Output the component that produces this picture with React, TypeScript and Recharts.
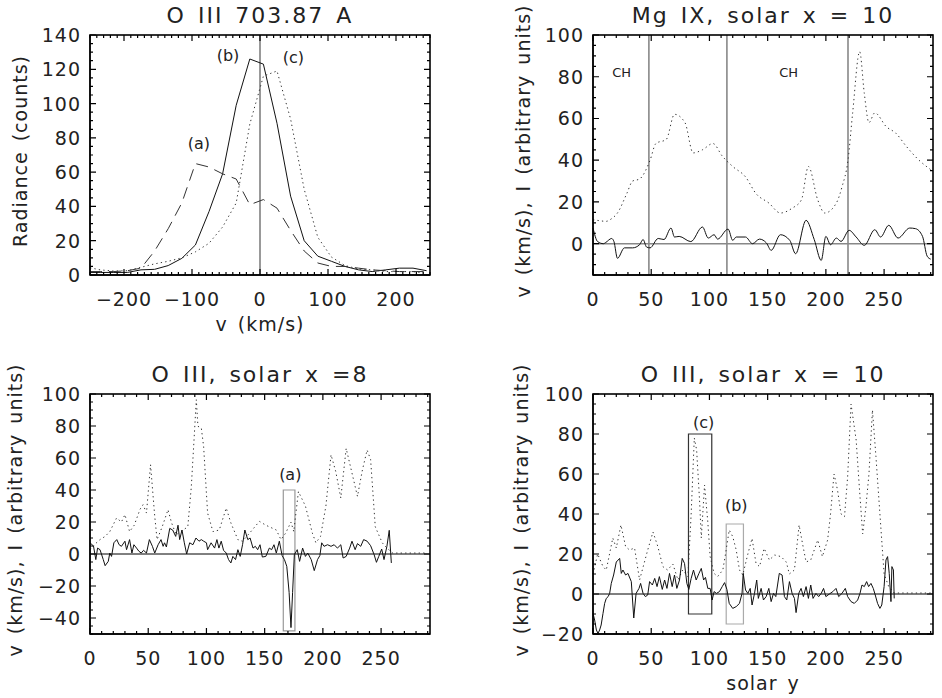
import React from "react";
import {
  LineChart,
  Line,
  XAxis,
  YAxis,
  ReferenceLine,
  ReferenceArea,
  ReferenceDot,
} from "recharts";

const FONT = "'DejaVu Sans', 'Liberation Sans', sans-serif";
const INK = "#222";

// --- top left: O III 703.87 A line profiles (velocity in km/s) ---
const VEL = [-250, -235, -215, -195, -175, -155, -135, -115, -95, -75, -55, -35, -15, 5, 25, 45, 65, 85, 105, 125, 145, 165, 185, 205, 225, 245];
const PROFILE_B = [1.5, 1.5, 1.5, 1.5, 3, 3.3, 5.5, 9.7, 17.5, 37, 59, 99, 126, 123, 88.5, 46, 20, 11, 8, 5, 3, 2, 3, 4, 4, 2.5];
const PROFILE_C = [4.2, 3, 2.3, 2.5, 4.5, 6.5, 8, 10, 13.5, 18.5, 28, 42, 88, 116, 119, 91, 50, 22, 10.5, 5.5, 3.5, 3, 2, 2, 2, 1];
const PROFILE_A = [2, 2, 2, 2.5, 4, 14, 27, 42, 65, 63, 59, 56, 41, 44, 39, 26, 14, 7, 5, 5, 4, 3, 2.5, 2, 2, 2];

// --- top right: Mg IX, solar x = 10 ([solar y, value]) ---
const MG_INT: [number, number][] = [
  [0, 11.5], [6, 11], [11, 10.7], [16, 12], [21, 14.7], [29, 24], [34, 30], [40, 31], [49, 40], [54, 48],
  [63, 50], [70, 62], [79, 58], [86, 43.5], [94, 45], [103, 48], [111, 42], [120, 37], [131, 32], [140, 24],
  [151, 19.5], [161, 14.7], [171, 17], [179, 21], [185, 37], [193, 21], [199, 14.7], [209, 19.5], [214, 27.5],
  [219, 40], [223, 62.7], [229, 92], [233, 72], [237, 58], [242, 62.7], [252, 56], [260, 53], [269, 46.7],
  [280, 40], [290, 35.5],
];
const MG_VEL: [number, number][] = [
  [0, 7.5], [4, 1], [9, 0], [11, 0.6], [16, 2.5], [18, 1], [21, -7], [27, -2], [34, -2], [40, -0.5], [43, 2],
  [46, -1.6], [49, -2], [56, 2.5], [61, 2], [67, 7.5], [70, 3.2], [74, 3.5], [84, 1], [94, 8], [99, 2.7],
  [104, 4.3], [107, 2.2], [116, 7], [120, 1.6], [123, 3.2], [131, 3.2], [137, 0], [143, 2.2], [149, 0.3],
  [153, -3.2], [161, 4.3], [169, 1.6], [174, -4.8], [183, 11.2], [190, 2], [196, -8], [200, 3.5], [204, -0.5],
  [209, 2.7], [213, 1.1], [220, 6.4], [226, 3.2], [233, -0.8], [242, 6.7], [247, 3.2], [254, 8.8], [262, 2.7],
  [272, 7.5], [277, 7.2], [283, 3.5], [287, -6], [290, -7.4],
];
const MG_BOUNDS = [48, 115, 219];

// --- bottom left: O III, solar x = 8 ---
const O8_INT: [number, number][] = [
  [0, 2.7], [4, 6], [8.6, 9], [13, 11], [17, 14], [22.8, 22.5], [27, 20], [30, 24.6], [34, 14], [38, 18],
  [43, 28], [45.6, 30.8], [48.5, 25.6], [52, 55.8], [55.6, 23.5], [57.6, 9], [62, 17], [67, 27.7], [70, 19.6],
  [74, 12], [78, 14], [84, 17], [87, 42], [89, 67], [91.3, 96.4], [92.7, 79.8], [95.6, 78.8], [97.6, 67],
  [101, 25.6], [105.6, 14], [111, 15], [117, 28.7], [121, 19.4], [127, 9], [131, 8], [137, 13], [145.5, 20.4],
  [151, 18], [160, 15], [164, 9], [168, 13], [172.6, 20], [175, 14], [179, 39], [185, 30], [191, 13], [194, 7],
  [198, 11], [202.6, 30], [207, 62], [211, 51.7], [215.4, 35], [220, 66], [225, 50.6], [229.7, 36], [234, 52.7],
  [238, 65], [241, 59], [245, 17], [251, 7], [255, 3.7], [260, 0.6], [262, 0.6], [288, 0.6],
];
const O8_VEL: [number, number][] = [
  [0, 7], [3, 5], [5, -3.5], [6.5, 3.7], [8.6, 2.7], [11.4, -3.5], [13, -7.3], [15.7, -4.6], [17, 0.6],
  [18.5, -1.5], [20.5, 7], [23, 9], [25, 5.8], [27, 4.8], [30, 8], [31.4, 2.7], [34, 9], [36, 0.6], [37.7, 5.8],
  [40, 3.7], [42, 1.7], [44, 0.6], [46, 2.3], [48.5, 0.6], [51, 9], [53.6, 4.8], [55.6, 0.6], [58.5, 5.8],
  [61, 9], [62.8, 4.8], [64, 7], [65.6, 4.4], [68.5, 16], [71, 15], [73.6, 11], [75.6, 18], [77, 9], [79, 15],
  [81, 7], [83, 0], [85.6, 7], [88.4, 5.8], [91, 10], [93.6, 8], [95.6, 9], [97.6, 8], [100, 7], [101, 2.7],
  [104, 7], [107, 3.7], [109, 9], [110.7, 3.7], [112.7, 8], [114.7, 2.3], [117, 0.6], [119, -3.5], [121, -5.6],
  [122.7, -1.5], [125, -3.5], [127, 2.7], [129, -1.5], [131, 5.8], [133, 15], [135.5, 9], [137.5, 10],
  [140, 3.7], [142, 4.8], [144, 2.7], [146, 5.8], [148, -1.9], [151, -1.5], [154, 3.7], [156, 2.7], [158, 5.8],
  [160, 0.6], [162.6, 8], [165, -1], [167, -3.5], [169, -7.7], [171, -24], [172.6, -46], [174, -24],
  [175.5, -0.4], [178, 2.7], [180, -4.6], [182.6, 3.7], [185, -1.5], [187, 0.6], [190, -3.5], [192.6, -10.4],
  [195.4, -3.5], [197.4, -1], [199, 7], [201, 4.8], [204, 5.8], [207, 4.8], [209.7, 5.8], [212.5, 3.7],
  [215.4, 5.8], [217.4, -2.5], [220, -1.5], [223, 3.7], [225, 8], [227.7, 2.7], [229.7, 6.5], [232.5, 4.8],
  [235, 9], [238, 8], [241, 5.2], [244, -0.4], [246, -5.2], [248, -1.5], [250.5, 3.1], [252.5, -3.5],
  [255, 4.8], [257, 14.8], [258.8, -5.6],
];

// --- bottom right: O III, solar x = 10 ---
const O10_INT: [number, number][] = [
  [0, 10], [4, 20], [8.6, 13.7], [11.4, 12], [17, 28], [20, 23], [24, 34.5], [28, 23.7], [31.4, 22], [35.7, 23],
  [40, 7], [47, 22], [51.5, 31], [55.7, 23.7], [60, 13.7], [64, 12], [68.6, 15], [73, 7], [77, 12], [81.5, 8.7],
  [84.3, 40], [87, 78], [89, 72], [91.5, 47], [93, 28], [95.8, 54.5], [98.6, 36], [100.6, 18.7], [104, 10.3],
  [107, 8.7], [111.5, 12], [113.8, 20], [117, 32], [120, 28.7], [123, 22], [125.8, 12], [128.6, 9.5], [133, 20],
  [136.6, 27.8], [140, 15.3], [143, 13.7], [147, 22.8], [151.5, 17], [156, 19.5], [161.5, 18.7], [166, 16],
  [168.6, 10], [173, 12], [177, 34.5], [180, 25], [183, 16], [187, 17], [193, 27], [197, 18.7], [201.5, 27],
  [204, 40], [207, 60], [210, 52], [213, 40], [216, 38.7], [218.7, 58.7], [221.6, 95], [226, 77], [228.7, 53.7],
  [231.6, 30], [234.4, 43.7], [237, 60], [240, 92], [243, 68.7], [247, 35], [250, 10], [254, 3.7], [258.7, 0.5],
  [290, 0.5],
];
const O10_VEL: [number, number][] = [
  [0, -9.7], [1.4, -13], [2.9, -18], [4.3, -19.7], [5.7, -18], [7, -15.5], [8.6, -9.7], [10, -4.7], [11.4, -2.2],
  [13, -1.3], [14.3, 0.3], [15.7, 5.3], [17.7, 9.5], [20, 16], [22.9, 17.8], [24.3, 10.3], [25.7, 12], [28, 9.5],
  [30, 10.3], [32.9, 6.2], [35, -12], [37, 0.3], [39.5, 2.8], [40.9, 5.3], [43, 0.3], [45, -1.3], [47, -0.5],
  [48.6, 6.2], [51, 4.5], [53, 7.8], [55, 3.7], [57, 8.7], [59.5, 2.3], [61.5, 7], [63.5, 2.8], [65.7, 10.3],
  [68, 3.7], [70, 9.5], [72, 2.8], [74.3, 7], [76.6, 17.8], [78.6, 15.3], [80.6, 5.3], [82.3, 2.3], [84.3, 7.8],
  [86.3, 12], [88.6, 7], [91, 10.3], [93, 12.8], [95, 7], [96.6, 8.3], [98.6, 2.8], [100.6, 2.8], [102.3, -3],
  [104, 1.2], [106, 0.3], [108.6, 1.2], [111, 3.7], [113, 5.7], [115, 2.3], [117, -4.7], [120, -7.2],
  [123, -6.3], [125.8, -4.7], [128, 0.3], [129, 10.3], [131, 2], [133, 0.3], [135, 2.8], [136.6, -5.5],
  [138.7, 0.3], [140.6, 7], [142, -2.2], [144.4, 2.8], [146.4, -3], [148.7, -1.3], [151, 2.8], [153, -3.8],
  [155, 0.3], [157, -1.3], [160, 10.3], [162.4, 9.5], [164.4, -1.3], [166.4, -3], [168.7, 6.2], [171, 0.3],
  [173, -2.2], [174.4, -9.3], [176.7, 0.3], [178.7, 2.8], [180.7, -1.3], [183, 3.7], [185, -2.2], [187, 4.5],
  [189, -2.2], [191.5, 0.3], [193.8, -1.3], [196, 0.3], [198, 2.8], [200, -1.3], [203, 0], [206, 1.2],
  [208.7, 2.8], [211, -1.3], [213.8, 0.3], [216.7, 2.8], [218.7, -1.3], [221.6, -3.8], [224.4, -4.7],
  [227.3, -3], [229.3, 0.3], [231, 4.5], [233, 3.7], [235, 6.2], [236.7, 3.7], [238.7, 5.3], [240.7, 2.8],
  [242.4, -0.5], [244.4, -4.7], [246.4, -7.2], [248, -5.5], [250, 3.7], [251.6, 17], [253, 18.7], [254.4, 10.3],
  [255.9, -3.8], [256.7, 13.7], [258, 12], [258.7, -2.2],
];

const range = (a: number, b: number, s: number) => {
  const out: number[] = [];
  for (let v = a; v <= b + 1e-9; v += s) out.push(Math.round(v * 100) / 100);
  return out;
};
const isMajor = (v: number, step: number) => Math.abs(v / step - Math.round(v / step)) < 1e-6;
const fmt = (v: number) => (v < 0 ? "\u2212" + Math.abs(v) : String(v));
const toPts = (pairs: [number, number][]) => pairs.map(([x, y]) => ({ x, y }));

const labelStyle = { fontFamily: FONT, fontSize: 19, fill: INK, letterSpacing: 1 };

const xLabelTick = (major: number) => ({ x, y, payload }: any) =>
  isMajor(payload.value, major) ? (
    <text x={x} y={y + 24} textAnchor="middle" dominantBaseline="central" style={labelStyle}>
      {fmt(payload.value)}
    </text>
  ) : (
    <g />
  );
const yLabelTick = (major: number) => ({ x, y, payload }: any) =>
  isMajor(payload.value, major) ? (
    <text x={x - 9} y={y} textAnchor="end" dominantBaseline="central" style={labelStyle}>
      {fmt(payload.value)}
    </text>
  ) : (
    <g />
  );

const note = (x: number, y: number, text: string, size = 16) => (
  <ReferenceDot
    key={text + x}
    x={x}
    y={y}
    r={0}
    ifOverflow="visible"
    shape={(p: any) => (
      <text x={p.cx} y={p.cy} textAnchor="middle" dominantBaseline="central"
        style={{ fontFamily: FONT, fontSize: size, fill: INK }}>
        {text}
      </text>
    )}
  />
);

interface Series {
  pts: { x: number; y: number }[];
  dash?: string;
  color?: string;
  curve?: "linear" | "monotone";
}

interface PanelProps {
  left: number;
  top: number;
  plot: { l: number; r: number; t: number; b: number };
  xDomain: [number, number];
  yDomain: [number, number];
  xStep: number;
  yStep: number;
  xMajor: number;
  yMajor: number;
  series: Series[];
  extras: React.ReactNode[];
  title: string;
  titleY: number;
  yLabel: string;
  yLabelX: number;
  xLabel?: string;
}

const W = 471;
const H = 349;
const MAJOR_LEN = 6;
const MINOR_LEN = 3;

// frame plus inward ticks on all four sides (IDL style)
function AxisBox({ plot, xDomain, yDomain, xTicks, yTicks, xMajor, yMajor }: any) {
  const [x0, x1] = xDomain;
  const [y0, y1] = yDomain;
  const px = (v: number) => plot.l + ((v - x0) / (x1 - x0)) * (plot.r - plot.l);
  const py = (v: number) => plot.b - ((v - y0) / (y1 - y0)) * (plot.b - plot.t);
  let d = "";
  xTicks.forEach((v: number) => {
    const len = isMajor(v, xMajor) ? MAJOR_LEN : MINOR_LEN;
    const x = px(v);
    d += `M${x},${plot.b}v${-len}M${x},${plot.t}v${len}`;
  });
  yTicks.forEach((v: number) => {
    const len = isMajor(v, yMajor) ? MAJOR_LEN : MINOR_LEN;
    const y = py(v);
    d += `M${plot.l},${y}h${len}M${plot.r},${y}h${-len}`;
  });
  return (
    <svg width={W} height={H}
      style={{ position: "absolute", left: 0, top: 0, pointerEvents: "none", zIndex: 5 }}>
      <rect x={plot.l} y={plot.t} width={plot.r - plot.l} height={plot.b - plot.t} fill="none"
        stroke="#000" strokeWidth={1.6} />
      <path d={d} stroke="#000" strokeWidth={1.2} fill="none" />
    </svg>
  );
}

function Panel(props: PanelProps) {
  const { left, top, plot, xDomain, yDomain, series, extras, xMajor, yMajor } = props;
  const xTicks = range(xDomain[0], xDomain[1], props.xStep).filter((v) => v <= xDomain[1]);
  const yTicks = range(yDomain[0], yDomain[1], props.yStep);
  const margin = { left: plot.l - 60, right: W - plot.r, top: plot.t, bottom: H - plot.b - 30 };
  const cx = (plot.l + plot.r) / 2;
  const cy = (plot.t + plot.b) / 2;

  return (
    <div style={{ position: "absolute", left, top, width: W, height: H }}>
      <LineChart width={W} height={H} margin={margin}>
        <XAxis dataKey="x" type="number" domain={xDomain} ticks={xTicks} interval={0}
          tickSize={0} tickMargin={0} tickLine={false} axisLine={{ stroke: "#111", strokeWidth: 1.3 }}
          height={30} tick={xLabelTick(xMajor)} />
        <YAxis type="number" domain={yDomain} ticks={yTicks} interval={0} tickSize={0}
          tickMargin={0} tickLine={false} axisLine={{ stroke: "#111", strokeWidth: 1.3 }} width={60}
          tick={yLabelTick(yMajor)} />
        {extras}
        {series.map((s, i) => (
          <Line key={i} data={s.pts} dataKey="y" type={s.curve ?? "linear"} stroke={s.color ?? "#111"}
            strokeWidth={1} strokeDasharray={s.dash} dot={false} activeDot={false} isAnimationActive={false} />
        ))}
      </LineChart>
      <AxisBox plot={plot} xDomain={xDomain} yDomain={yDomain} xTicks={xTicks} yTicks={yTicks}
        xMajor={xMajor} yMajor={yMajor} />
      <div style={{ position: "absolute", left: cx, top: props.titleY, transform: "translate(-50%, -50%)",
        fontSize: 22, letterSpacing: 2, whiteSpace: "nowrap", lineHeight: 1, wordSpacing: 3 }}>
        {props.title}
      </div>
      <div style={{ position: "absolute", left: props.yLabelX, top: cy - 4,
        transform: "translate(-50%, -50%) rotate(-90deg)", fontSize: 19, letterSpacing: 1,
        whiteSpace: "nowrap", lineHeight: 1, wordSpacing: 3 }}>
        {props.yLabel}
      </div>
      {props.xLabel && (
        <div style={{ position: "absolute", left: cx, top: plot.b + 49, transform: "translate(-50%, -50%)",
          fontSize: 19, letterSpacing: 1, whiteSpace: "nowrap", lineHeight: 1, wordSpacing: 3 }}>
          {props.xLabel}
        </div>
      )}
    </div>
  );
}

const DOT = "1.3 3.2";
const DASH = "12 7";
const Y_TEXT = "v (km/s), I (arbitrary units)";

export default function App() {
  const profile = (vals: number[]) => VEL.map((x, i) => ({ x, y: vals[i] }));
  return (
    <div style={{ position: "absolute", left: 0, top: 0, width: 942, height: 698, background: "#fff",
      fontFamily: FONT, color: INK }}>
      <Panel
        left={0} top={0} plot={{ l: 90, r: 430, t: 35, b: 275 }}
        xDomain={[-250, 250]} yDomain={[0, 140]} xStep={10} yStep={5} xMajor={100} yMajor={20}
        title="O III 703.87 A" titleY={16} yLabel="Radiance (counts)" yLabelX={20} xLabel="v  (km/s)"
        series={[
          { pts: profile(PROFILE_B) },
          { pts: profile(PROFILE_C), dash: DOT, color: "#333" },
          { pts: profile(PROFILE_A), dash: DASH, color: "#333" },
        ]}
        extras={[
          <ReferenceLine key="v0" x={0} stroke="#555" strokeWidth={1.2} />,
          note(-47, 128, "(b)"),
          note(49, 127, "(c)"),
          note(-90, 77, "(a)"),
        ]}
      />
      <Panel
        left={471} top={0} plot={{ l: 122, r: 462, t: 35, b: 275 }}
        xDomain={[0, 292]} yDomain={[-15, 100]} xStep={10} yStep={5} xMajor={50} yMajor={20}
        title="Mg IX, solar x = 10" titleY={16} yLabel={Y_TEXT} yLabelX={52}
        series={[
          { pts: toPts(MG_INT), dash: DOT, color: "#333", curve: "monotone" },
          { pts: toPts(MG_VEL), curve: "monotone" },
        ]}
        extras={[
          ...MG_BOUNDS.map((b) => <ReferenceLine key={"b" + b} x={b} stroke="#888" strokeWidth={1.6} />),
          <ReferenceLine key="h0" y={0} stroke="#888" strokeWidth={1.6} />,
          note(24.6, 82, "CH", 13),
          note(168, 82, "CH", 13),
        ]}
      />
      <Panel
        left={0} top={349} plot={{ l: 90, r: 430, t: 45, b: 285 }}
        xDomain={[0, 292]} yDomain={[-50, 100]} xStep={10} yStep={5} xMajor={50} yMajor={20}
        title="O III, solar x =8" titleY={26} yLabel={Y_TEXT} yLabelX={15}
        series={[
          { pts: toPts(O8_INT), dash: DOT, color: "#333" },
          { pts: toPts(O8_VEL) },
        ]}
        extras={[
          <ReferenceLine key="h0" y={0} stroke="#000" strokeWidth={1} />,
          <ReferenceArea key="boxa" x1={166} x2={176} y1={-48} y2={40} fill="none" stroke="#999"
            strokeWidth={1.2} fillOpacity={0} ifOverflow="visible" />,
          note(172, 49.6, "(a)"),
        ]}
      />
      <Panel
        left={471} top={349} plot={{ l: 122, r: 462, t: 45, b: 285 }}
        xDomain={[0, 292]} yDomain={[-20, 100]} xStep={10} yStep={5} xMajor={50} yMajor={20}
        title="O III, solar x = 10" titleY={26} yLabel={Y_TEXT} yLabelX={50} xLabel="solar y"
        series={[
          { pts: toPts(O10_INT), dash: DOT, color: "#333" },
          { pts: toPts(O10_VEL) },
        ]}
        extras={[
          <ReferenceLine key="h0" y={0} stroke="#000" strokeWidth={1} />,
          <ReferenceArea key="boxc" x1={82} x2={102} y1={-10} y2={80} fill="none" stroke="#333"
            strokeWidth={1.2} fillOpacity={0} ifOverflow="visible" />,
          <ReferenceArea key="boxb" x1={114.4} x2={129.2} y1={-15} y2={35} fill="none" stroke="#aaa"
            strokeWidth={1.2} fillOpacity={0} ifOverflow="visible" />,
          note(95, 86, "(c)"),
          note(123, 44.5, "(b)"),
        ]}
      />
    </div>
  );
}
